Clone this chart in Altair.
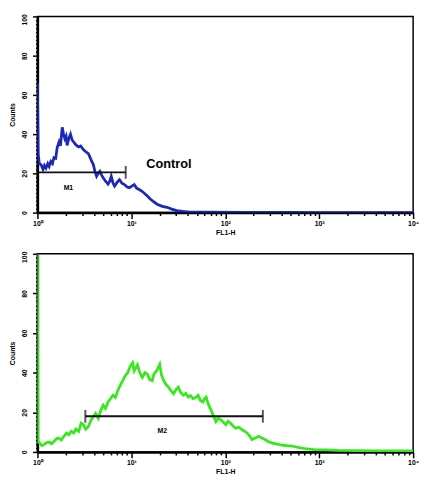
import math
import altair as alt
import pandas as pd

# ---- data (x = log10 of FL1 intensity, y = counts) ----
control_log = [0.000, 0.008, 0.020, 0.039, 0.060, 0.075, 0.091, 0.110, 0.125, 0.143,
               0.160, 0.175, 0.195, 0.210, 0.230, 0.245, 0.264, 0.278, 0.292, 0.305,
               0.316, 0.335, 0.352, 0.370, 0.386, 0.410, 0.439, 0.460, 0.491, 0.515,
               0.543, 0.570, 0.595, 0.612, 0.630, 0.648, 0.665, 0.685, 0.700, 0.725,
               0.752, 0.770, 0.786, 0.805, 0.822, 0.850, 0.874, 0.900, 0.926, 0.955,
               0.979, 1.005, 1.031, 1.055, 1.083, 1.110, 1.135, 1.170, 1.204, 1.240,
               1.274, 1.330, 1.379, 1.430, 1.483, 1.550, 1.622, 1.800, 2.200, 2.600,
               3.000, 3.500, 4.000]
control_count = [66, 30, 25, 24.4, 22, 24, 22.7, 25, 23.5, 26,
                 25, 28, 27.7, 33, 36, 34, 43.5, 40, 37.7, 39,
                 34.3, 38, 40, 37, 36, 34.5, 33.5, 34, 32, 31,
                 30, 27, 24.5, 21, 18.5, 20, 21, 19, 17.7, 16,
                 14.5, 16, 18.5, 15, 13.5, 15.5, 16.8, 15, 14.3, 13,
                 12.7, 13.5, 14.3, 12.5, 11.8, 11, 10, 8.5, 6.8, 5.5,
                 4.3, 3.2, 2.7, 1.8, 1.0, 0.6, 0.3, 0.2, 0.1, 0.1,
                 0.05, 0.05, 0.05]

sample_log = [0.000, 0.006, 0.021, 0.047, 0.073, 0.100, 0.125, 0.150, 0.178, 0.205,
              0.230, 0.255, 0.282, 0.310, 0.334, 0.360, 0.386, 0.410, 0.439, 0.465,
              0.491, 0.515, 0.543, 0.570, 0.595, 0.620, 0.648, 0.675, 0.700, 0.725,
              0.752, 0.780, 0.804, 0.830, 0.856, 0.885, 0.909, 0.935, 0.961, 0.985,
              1.013, 1.030, 1.048, 1.065, 1.083, 1.100, 1.117, 1.145, 1.170, 1.195,
              1.222, 1.240, 1.270, 1.302, 1.320, 1.344, 1.370, 1.396, 1.420, 1.449,
              1.475, 1.500, 1.525, 1.553, 1.580, 1.605, 1.630, 1.657, 1.685, 1.710,
              1.735, 1.762, 1.780, 1.796, 1.820, 1.849, 1.875, 1.900, 1.925, 1.953,
              1.980, 2.005, 2.030, 2.057, 2.085, 2.110, 2.145, 2.180, 2.205, 2.232,
              2.260, 2.284, 2.320, 2.353, 2.390, 2.423, 2.460, 2.493, 2.550, 2.600,
              2.705, 2.790, 2.872, 2.950, 3.081, 3.200, 3.400, 3.600, 3.800, 4.000]
sample_count = [100, 5, 4.6, 3.2, 3.8, 4.8, 5, 4.2, 5.4, 6.8,
                7, 6, 7.9, 9.5, 8.7, 10.5, 9.6, 11.5, 10.4, 14.5,
                13.7, 11.5, 12.9, 16, 17.8, 19.5, 17, 21, 23.6, 22,
                25.2, 27, 28.6, 27.5, 31, 34, 36, 38.5, 40, 43,
                45, 41, 42.6, 44, 41, 39, 37.6, 40, 39.3, 36.5,
                36, 39.3, 41, 44.2, 39, 36, 34, 32.7, 31, 29.4,
                31.5, 32.7, 30, 28.6, 29.5, 27.7, 28.5, 26.9, 27.5, 28.6,
                26, 25.2, 27, 27.7, 24, 21.1, 18, 15.3, 17, 16.2,
                15, 13.7, 15.5, 14.5, 13, 12, 12.5, 11.2, 10.5, 9.6,
                8, 6.3, 7, 7.9, 7, 6.3, 5.2, 4.6, 4, 3.4,
                3, 2.2, 1.5, 1.2, 1, 0.8, 0.7, 0.6, 0.5, 0.5]

x_major = [0, 1, 2, 3, 4]
x_major_labels = ["10⁰", "10¹", "10²", "10³", "10⁴"]
y_major = [0, 20, 40, 60, 80, 100]

# gates (markers)
gate_names = ["M1", "M2"]
gate_lo = [0.0, 0.51]
gate_hi = [0.94, 2.40]
gate_level = [20.5, 18.0]
gate_label_x = [0.33, 1.33]
gate_label_y = [12.5, 10.5]

ctrl_text = ["Control"]
ctrl_text_x = [1.40]
ctrl_text_y = [24.5]

FONT = "Liberation Sans"
BLUE = "#1c28b8"
GREEN = "#36e81c"

# axis tick positions (major + minor)
x_tick_vals = [round(n + math.log10(k), 4) for n in range(4) for k in range(1, 10)] + [4]
y_tick_vals = list(range(0, 101, 2))

xlab_expr = "''"
for v, lab in reversed(list(zip(x_major, x_major_labels))):
    xlab_expr = f"datum.value == {v} ? '{lab}' : ({xlab_expr})"
ylab_expr = " || ".join(f"datum.value == {v}" for v in y_major)
ylab_expr = f"({ylab_expr}) ? datum.label : ''"

x_axis = alt.Axis(
    values=x_tick_vals, tickCount=len(x_tick_vals) + 5,
    labelExpr=xlab_expr, labelOverlap=False, labelFlush=False,
    tickSize={"condition": {"test": "datum.value % 1 == 0", "value": 6}, "value": 3},
    tickColor="black", tickWidth=1.5, domainColor="black", domainWidth=2.5,
    labelFont=FONT, labelFontSize=7, labelFontWeight="bold", labelColor="black",
    labelPadding=1, title="FL1-H", titleFont=FONT, titleFontSize=7,
    titleFontWeight="bold", titleColor="black", titlePadding=2, grid=False,
)

y_axis = alt.Axis(
    values=y_tick_vals, tickCount=len(y_tick_vals) + 5,
    labelExpr=ylab_expr, labelOverlap=False, labelFlush=False,
    tickSize={"condition": {"test": "datum.value % 20 == 0", "value": 5}, "value": 2},
    tickColor="black", tickWidth=1.5, domainColor="black", domainWidth=2.5,
    labelAngle=270, labelAlign="center", labelBaseline="bottom",
    labelOffset={"condition": {"test": "datum.value == 100", "value": 3}, "value": 0},
    labelFont=FONT, labelFontSize=7, labelFontWeight="bold", labelColor="black",
    labelPadding=5, title="Counts", titleFont=FONT, titleFontSize=7,
    titleFontWeight="bold", titleColor="black", titlePadding=5, grid=False,
)


def panel(xs, ys, color, gate_idx, texts, h):
    df = pd.DataFrame({"x": xs, "y": ys})
    xsc = alt.Scale(domain=[0, 4], nice=False, zero=False)
    ysc = alt.Scale(domain=[0, 100], nice=False)
    line = alt.Chart(df).mark_line(color=color, strokeWidth=2.8, clip=True).encode(
        x=alt.X("x:Q", scale=xsc, axis=x_axis),
        y=alt.Y("y:Q", scale=ysc, axis=y_axis),
    )
    g = pd.DataFrame({
        "name": [gate_names[gate_idx]], "lo": [gate_lo[gate_idx]],
        "hi": [gate_hi[gate_idx]], "lev": [gate_level[gate_idx]],
        "lx": [gate_label_x[gate_idx]], "ly": [gate_label_y[gate_idx]],
    })
    bar = alt.Chart(g).mark_rule(color="#111111", strokeWidth=2).encode(
        x=alt.X("lo:Q", scale=xsc), x2="hi:Q", y=alt.Y("lev:Q", scale=ysc))
    caps = pd.DataFrame({"cx": [gate_lo[gate_idx], gate_hi[gate_idx]],
                         "cy": [gate_level[gate_idx]] * 2})
    cap = alt.Chart(caps).mark_tick(orient="vertical", size=13, thickness=2,
                                    color="#111111").encode(
        x=alt.X("cx:Q", scale=xsc), y=alt.Y("cy:Q", scale=ysc))
    glab = alt.Chart(g).mark_text(font=FONT, fontSize=7, fontWeight="bold",
                                  color="black").encode(
        x=alt.X("lx:Q", scale=xsc), y=alt.Y("ly:Q", scale=ysc), text="name:N")
    layers = [line, bar, cap, glab]
    if texts is not None:
        tdf = pd.DataFrame({"t": texts[0], "tx": texts[1], "ty": texts[2]})
        layers.append(alt.Chart(tdf).mark_text(font=FONT, fontSize=13, fontWeight="bold",
                                               color="black").encode(
            x=alt.X("tx:Q", scale=xsc), y=alt.Y("ty:Q", scale=ysc), text="t:N"))
    return alt.layer(*layers).properties(width=383, height=h)


top = panel(control_log, control_count, BLUE, 0, (ctrl_text, ctrl_text_x, ctrl_text_y), 200)
bottom = panel(sample_log, sample_count, GREEN, 1, None, 202)

chart = alt.vconcat(top, bottom, spacing=42, bounds="flush").properties(
    padding={"left": 0, "top": 0, "right": 0, "bottom": 0}
).configure_view(stroke="black", strokeWidth=1.5)

chart.save("out.html", embed_options={"renderer": "svg", "actions": False})
